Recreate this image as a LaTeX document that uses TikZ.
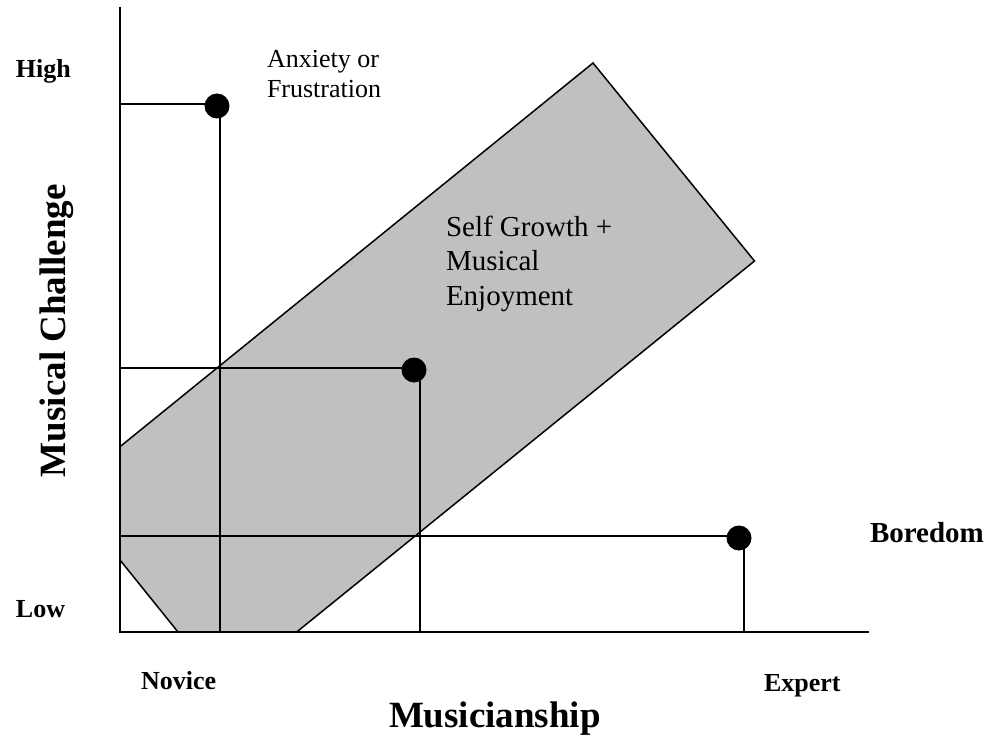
\documentclass[tikz,border=0pt]{standalone}
\usepackage{fontspec}
\setmainfont{Liberation Serif}
\definecolor{zone}{RGB}{192,192,192}
\begin{document}
\begin{tikzpicture}[x=1pt,y=-1pt,line width=2pt,
    lab/.style={font=\fontsize{26}{30}\selectfont\bfseries,inner sep=0pt,anchor=base west},
    note/.style={inner sep=0pt,align=left,anchor=north west},
    dot/.style={circle,fill=black,inner sep=0pt,minimum size=25pt}]
  \useasboundingbox (0,0) rectangle (998,738);
  % flow zone
  \filldraw[fill=zone,draw=black,line width=1.5pt]
    (120,446.7) -- (593,63) -- (754.5,261) -- (296.7,632) -- (178,632) -- (120,560) -- cycle;
  % axes
  \coordinate (o) at (120,632);
  \coordinate (ytop) at (120,7);
  \coordinate (xend) at (869,632);
  \draw (ytop) -- (o) -- (xend);
  % guide lines
  \coordinate (s1) at (120,104);
  \coordinate (c1) at (220,104);
  \coordinate (f1) at (220,632);
  \coordinate (s2) at (120,368);
  \coordinate (c2) at (420,368);
  \coordinate (f2) at (420,632);
  \coordinate (s3) at (120,536);
  \coordinate (c3) at (744,536);
  \coordinate (f3) at (744,632);
  \draw (s1) -- (c1) -- (f1);
  \draw (s2) -- (c2) -- (f2);
  \draw (s3) -- (c3) -- (f3);
  \node[dot] (anx) at (217,106) {};
  \node[dot] (grow) at (414,370) {};
  \node[dot] (bore) at (739,538) {};
  % labels
  \node[lab] (high) at (15,78) {High};
  \node[lab] (low) at (15,617) {Low};
  \node[lab] (novice) at (140,689) {Novice};
  \node[lab] (expert) at (763,691) {Expert};
  \node[lab,font=\fontsize{29}{34}\selectfont\bfseries] (boredom) at (869,542) {Boredom};
  \node[lab,font=\fontsize{37}{40}\selectfont\bfseries] (xlab) at (388,727) {Musicianship};
  \node[lab,font=\fontsize{37}{40}\selectfont\bfseries,rotate=90] (ylab) at (65,478) {Musical Challenge};
  \node[note,font=\fontsize{26}{30}\selectfont] (anxiety) at (266,49.5) {Anxiety or\\Frustration};
  \node[note,font=\fontsize{29}{34.5}\selectfont] (flow) at (445,215) {Self Growth +\\Musical\\Enjoyment};
\end{tikzpicture}
\end{document}
